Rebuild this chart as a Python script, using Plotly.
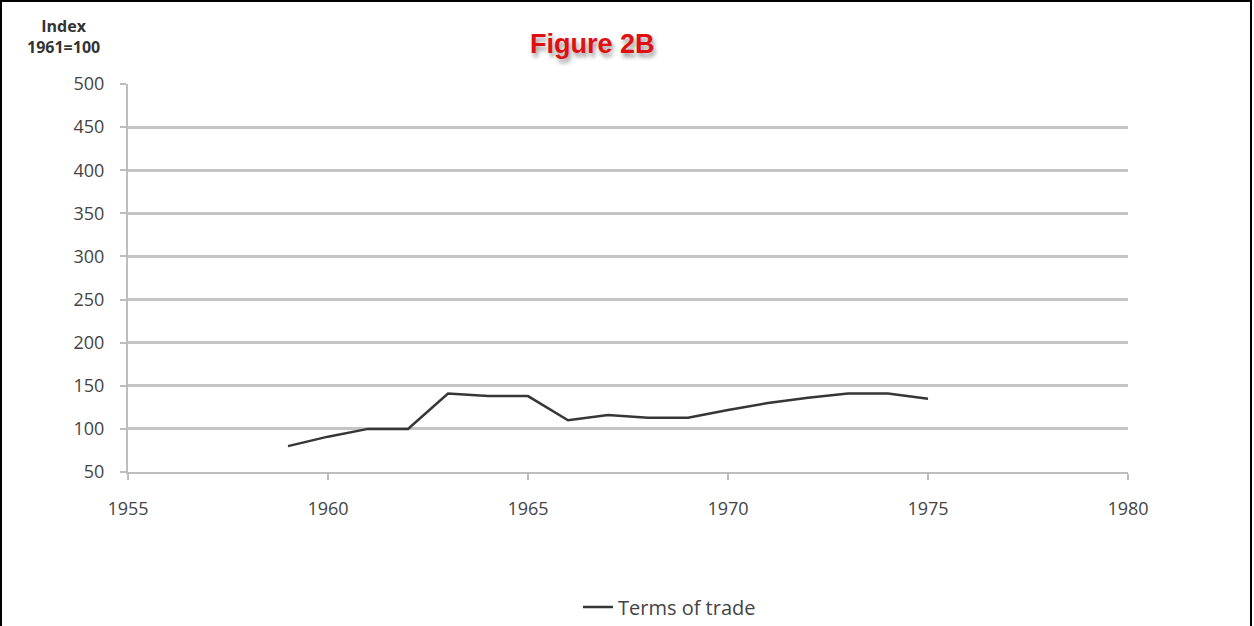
import plotly.graph_objects as go

years = [1959, 1960, 1961, 1962, 1963, 1964, 1965, 1966, 1967, 1968, 1969,
         1970, 1971, 1972, 1973, 1974, 1975]
terms_of_trade = [80, 91, 100, 100, 141, 138, 138, 110, 116, 113, 113,
                  122, 130, 136, 141, 141, 135]
x_ticks = [1955, 1960, 1965, 1970, 1975, 1980]
y_ticks = [50, 100, 150, 200, 250, 300, 350, 400, 450, 500]

W, H = 1254, 626
L, R, T, B = 128, 126, 84, 154
pw, ph = W - L - R, H - T - B

def px(xpix):
    return (xpix - L) / pw

def py(ypix):
    return (H - B - ypix) / ph

fig = go.Figure()
fig.add_trace(go.Scatter(
    x=years, y=terms_of_trade, mode="lines", name="Terms of trade",
    line=dict(color="#363636", width=2.5),
))

axis_font = dict(family="Open Sans, DejaVu Sans, sans-serif", size=18, color="#444444")

fig.update_layout(
    width=W, height=H,
    margin=dict(l=L, r=R, t=T, b=B, pad=0, autoexpand=False),
    paper_bgcolor="white", plot_bgcolor="white",
    showlegend=True,
    legend=dict(orientation="h", xref="container", yref="container",
                x=578 / W, xanchor="left",
                y=(H - 607) / H, yanchor="middle",
                font=dict(family="Open Sans, DejaVu Sans, sans-serif", size=20, color="#444444"),
                bgcolor="rgba(0,0,0,0)"),
    xaxis=dict(range=[1955, 1980], tickvals=x_ticks, showgrid=False,
               showline=True, linecolor="#bdbdbd", linewidth=2,
               ticks="outside", ticklen=6, tickcolor="#bdbdbd", tickwidth=2,
               tickfont=axis_font, zeroline=False, ticklabelstandoff=13),
    yaxis=dict(range=[50, 500], tickvals=y_ticks, showgrid=True,
               gridcolor="#c4c4c4", gridwidth=2.5,
               showline=True, linecolor="#bdbdbd", linewidth=2,
               ticks="outside", ticklen=6, tickcolor="#bdbdbd", tickwidth=2,
               tickfont=axis_font, zeroline=False, ticklabelstandoff=12),
    annotations=[
        dict(text="<b>Index<br>1961=100</b>", xref="paper", yref="paper",
             x=px(63), y=py(37), xanchor="center", yanchor="middle",
             showarrow=False, align="center",
             font=dict(family="Open Sans, DejaVu Sans, sans-serif", size=16, color="#333333")),
        dict(text="<b>Figure 2B</b>", xref="paper", yref="paper",
             x=px(592), y=py(44), xanchor="center", yanchor="middle",
             showarrow=False,
             font=dict(family="Liberation Sans, Arial, sans-serif", size=27, color="#e01010",
                       shadow="2px 4px 4px #9a9a9a")),
    ],
    shapes=[
        dict(type="rect", xref="paper", yref="paper",
             x0=px(1), x1=px(1251), y0=py(640), y1=py(1),
             line=dict(color="black", width=2), fillcolor="rgba(0,0,0,0)", layer="below"),
    ],
)

fig.write_html("out.html", config={"displayModeBar": False},
               post_script="document.body.style.margin='0';document.body.style.padding='0';")
